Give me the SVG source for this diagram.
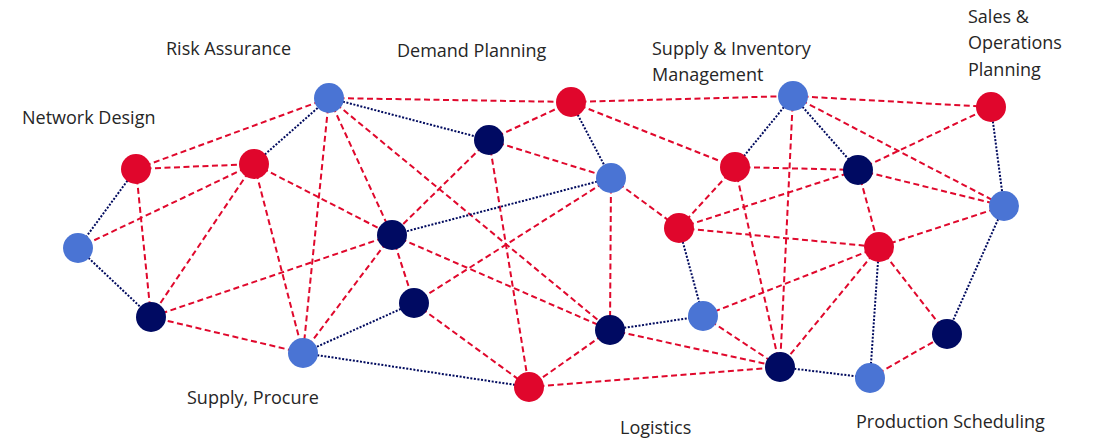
<svg xmlns="http://www.w3.org/2000/svg" width="1097" height="441" viewBox="0 0 1097 441">
<style>
.r{stroke:#E0082C;stroke-width:2;stroke-dasharray:6 3.5;fill:none}
.n{stroke:#000A5E;stroke-width:2;stroke-dasharray:2 1.6;fill:none}
.cr{fill:#E0062C}
.cb{fill:#4A74D4}
.cn{fill:#000A62}
text{font-family:"Open Sans","Liberation Sans",sans-serif;font-size:18px;fill:#262626}
</style>
<rect width="1097" height="441" fill="#fff"/>
<g id="connectors">
<line class="r" x1="136" y1="169" x2="329" y2="98"/>
<line class="r" x1="136" y1="169" x2="254" y2="164"/>
<line class="n" x1="136" y1="169" x2="78" y2="248"/>
<line class="r" x1="136" y1="169" x2="151" y2="317"/>
<line class="n" x1="254" y1="164" x2="329" y2="98"/>
<line class="r" x1="254" y1="164" x2="78" y2="248"/>
<line class="r" x1="254" y1="164" x2="151" y2="317"/>
<line class="r" x1="254" y1="164" x2="303" y2="353"/>
<line class="r" x1="254" y1="164" x2="392" y2="235"/>
<line class="r" x1="329" y1="98" x2="303" y2="353"/>
<line class="r" x1="329" y1="98" x2="392" y2="235"/>
<line class="r" x1="329" y1="98" x2="610" y2="330"/>
<line class="r" x1="329" y1="98" x2="571" y2="102"/>
<line class="n" x1="329" y1="98" x2="489" y2="140"/>
<line class="r" x1="489" y1="140" x2="571" y2="102"/>
<line class="r" x1="489" y1="140" x2="611" y2="178"/>
<line class="r" x1="489" y1="140" x2="392" y2="235"/>
<line class="r" x1="489" y1="140" x2="529" y2="387"/>
<line class="n" x1="571" y1="102" x2="611" y2="178"/>
<line class="r" x1="571" y1="102" x2="735" y2="167"/>
<line class="r" x1="571" y1="102" x2="793" y2="96"/>
<line class="n" x1="611" y1="178" x2="392" y2="235"/>
<line class="r" x1="611" y1="178" x2="414" y2="303"/>
<line class="r" x1="611" y1="178" x2="610" y2="330"/>
<line class="r" x1="611" y1="178" x2="679" y2="228"/>
<line class="r" x1="392" y1="235" x2="414" y2="303"/>
<line class="r" x1="392" y1="235" x2="610" y2="330"/>
<line class="r" x1="392" y1="235" x2="151" y2="317"/>
<line class="r" x1="392" y1="235" x2="303" y2="353"/>
<line class="n" x1="414" y1="303" x2="303" y2="353"/>
<line class="r" x1="414" y1="303" x2="529" y2="387"/>
<line class="n" x1="303" y1="353" x2="529" y2="387"/>
<line class="r" x1="303" y1="353" x2="151" y2="317"/>
<line class="n" x1="78" y1="248" x2="151" y2="317"/>
<line class="r" x1="610" y1="330" x2="529" y2="387"/>
<line class="n" x1="610" y1="330" x2="703" y2="316"/>
<line class="r" x1="610" y1="330" x2="780" y2="367"/>
<line class="r" x1="529" y1="387" x2="780" y2="367"/>
<line class="n" x1="679" y1="228" x2="703" y2="316"/>
<line class="n" x1="793" y1="96" x2="735" y2="167"/>
<line class="n" x1="793" y1="96" x2="858" y2="170"/>
<line class="r" x1="793" y1="96" x2="991" y2="107"/>
<line class="r" x1="793" y1="96" x2="1004" y2="206"/>
<line class="r" x1="793" y1="96" x2="780" y2="367"/>
<line class="r" x1="735" y1="167" x2="858" y2="170"/>
<line class="r" x1="735" y1="167" x2="679" y2="228"/>
<line class="r" x1="735" y1="167" x2="780" y2="367"/>
<line class="r" x1="679" y1="228" x2="858" y2="170"/>
<line class="r" x1="679" y1="228" x2="879" y2="247"/>
<line class="r" x1="858" y1="170" x2="991" y2="107"/>
<line class="r" x1="858" y1="170" x2="1004" y2="206"/>
<line class="r" x1="858" y1="170" x2="879" y2="247"/>
<line class="n" x1="991" y1="107" x2="1004" y2="206"/>
<line class="r" x1="1004" y1="206" x2="879" y2="247"/>
<line class="n" x1="1004" y1="206" x2="947" y2="334"/>
<line class="r" x1="879" y1="247" x2="780" y2="367"/>
<line class="r" x1="879" y1="247" x2="703" y2="316"/>
<line class="n" x1="879" y1="247" x2="870" y2="378"/>
<line class="r" x1="879" y1="247" x2="947" y2="334"/>
<line class="r" x1="703" y1="316" x2="780" y2="367"/>
<line class="n" x1="780" y1="367" x2="870" y2="378"/>
<line class="r" x1="870" y1="378" x2="947" y2="334"/>
</g>
<g id="node-r1"><circle class="cr" cx="136" cy="169" r="15"/></g>
<g id="node-r2"><circle class="cr" cx="254" cy="164" r="15"/></g>
<g id="node-r3"><circle class="cr" cx="571" cy="102" r="15"/></g>
<g id="node-r4"><circle class="cr" cx="735" cy="167" r="15"/></g>
<g id="node-r5"><circle class="cr" cx="679" cy="228" r="15"/></g>
<g id="node-r6"><circle class="cr" cx="879" cy="247" r="15"/></g>
<g id="node-r7"><circle class="cr" cx="991" cy="107" r="15"/></g>
<g id="node-r8"><circle class="cr" cx="529" cy="387" r="15"/></g>
<g id="node-b1"><circle class="cb" cx="329" cy="98" r="15"/></g>
<g id="node-b2"><circle class="cb" cx="78" cy="248" r="15"/></g>
<g id="node-b3"><circle class="cb" cx="611" cy="178" r="15"/></g>
<g id="node-b4"><circle class="cb" cx="793" cy="96" r="15"/></g>
<g id="node-b5"><circle class="cb" cx="1004" cy="206" r="15"/></g>
<g id="node-b6"><circle class="cb" cx="703" cy="316" r="15"/></g>
<g id="node-b7"><circle class="cb" cx="303" cy="353" r="15"/></g>
<g id="node-b8"><circle class="cb" cx="870" cy="378" r="15"/></g>
<g id="node-n1"><circle class="cn" cx="489" cy="140" r="15"/></g>
<g id="node-n2"><circle class="cn" cx="392" cy="235" r="15"/></g>
<g id="node-n3"><circle class="cn" cx="151" cy="317" r="15"/></g>
<g id="node-n4"><circle class="cn" cx="414" cy="303" r="15"/></g>
<g id="node-n5"><circle class="cn" cx="610" cy="330" r="15"/></g>
<g id="node-n6"><circle class="cn" cx="858" cy="170" r="15"/></g>
<g id="node-n7"><circle class="cn" cx="780" cy="367" r="15"/></g>
<g id="node-n8"><circle class="cn" cx="947" cy="334" r="15"/></g>
<g id="labels">
<text x="22" y="124">Network Design</text>
<text x="166" y="55">Risk Assurance</text>
<text x="397" y="57">Demand Planning</text>
<text x="652" y="55">Supply &amp; Inventory</text>
<text x="652" y="81">Management</text>
<text x="968" y="23">Sales &amp;</text>
<text x="968" y="49">Operations</text>
<text x="968" y="76">Planning</text>
<text x="187" y="404">Supply, Procure</text>
<text x="620" y="434">Logistics</text>
<text x="856" y="428">Production Scheduling</text>
</g>
</svg>
